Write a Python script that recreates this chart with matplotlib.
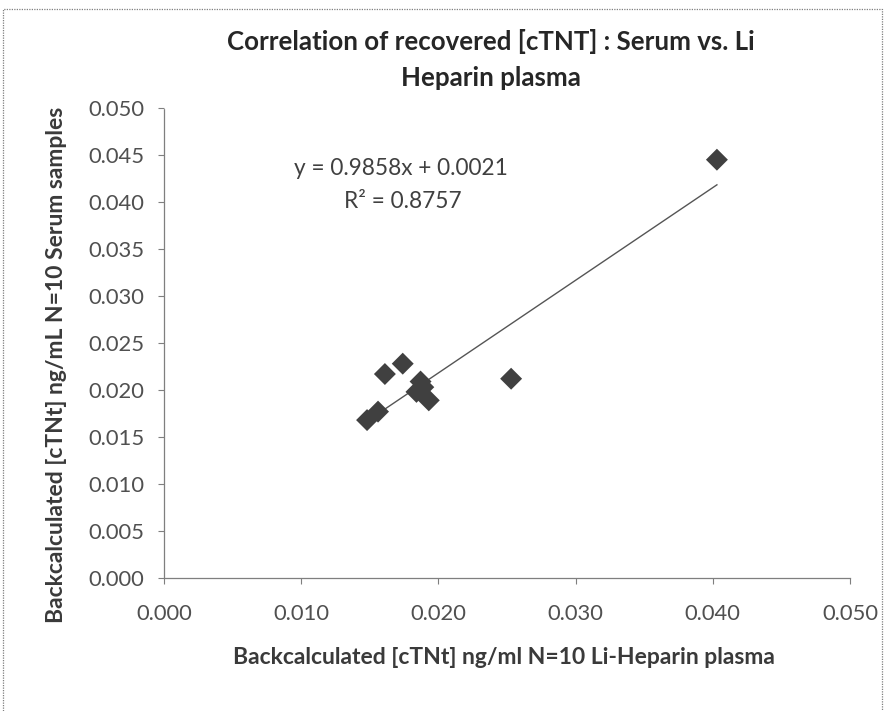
import matplotlib
matplotlib.use("Agg")
import matplotlib.pyplot as plt
from matplotlib.patches import Rectangle
import numpy as np

# Data
plasma = [0.0403, 0.0161, 0.0174, 0.0253, 0.0187, 0.0184, 0.0193, 0.0189, 0.0148, 0.0156]
serum = [0.0445, 0.0217, 0.0228, 0.0212, 0.0209, 0.0198, 0.0189, 0.0203, 0.0168, 0.0177]
slope = 0.9858
intercept = 0.0021
r2 = 0.8757
ticks = [0.000, 0.010, 0.020, 0.030, 0.040, 0.050]
yticks = [0.000, 0.005, 0.010, 0.015, 0.020, 0.025, 0.030, 0.035, 0.040, 0.045, 0.050]

title = "Correlation of recovered [cTNT] : Serum vs. Li\nHeparin plasma"
xlabel = "Backcalculated [cTNt] ng/ml N=10 Li-Heparin plasma"
ylabel = "Backcalculated [cTNt] ng/mL N=10 Serum samples"

plt.rcParams['font.family'] = ['Lato', 'DejaVu Sans']

W, H = 885, 711
fig = plt.figure(figsize=(W / 100, H / 100), dpi=100)
renderer = fig.canvas.get_renderer()


def fit(text, target_px, weight='normal'):
    t = fig.text(0, 0, text, fontsize=10, fontweight=weight)
    w = t.get_window_extent(renderer).width
    t.remove()
    return 10 * target_px / w


fs_tick = fit("0.010", 56)
fs_lab = fit(xlabel, 545, 'bold')
fs_title = fit("Correlation of recovered [cTNT] : Serum vs. Li", 530, 'bold')
fs_eq = fit("R² = 0.8757", 117)

ax = fig.add_axes([164 / W, 1 - 578 / H, (850 - 164) / W, (578 - 108) / H])

# outer chart border (dotted)
fig.patches.append(Rectangle((3 / W, -0.05), 879 / W, 1.05 - 9 / H, transform=fig.transFigure,
                             fill=False, edgecolor='#7f7f7f', linestyle=(0, (1, 1)), linewidth=0.9))

ax.scatter(plasma, serum, marker='D', s=125, color='#404040', edgecolors='none', zorder=3)

xs = np.array([min(plasma), max(plasma)])
ax.plot(xs, slope * xs + intercept, color='#555555', linewidth=1.0, zorder=2)

ax.set_xlim(0, 0.05)
ax.set_ylim(0, 0.05)
ax.set_xticks(ticks)
ax.set_yticks(yticks)
ax.set_xticklabels([f"{t:.3f}" for t in ticks])
ax.set_yticklabels([f"{t:.3f}" for t in yticks])

for side in ['top', 'right']:
    ax.spines[side].set_visible(False)
for side in ['left', 'bottom']:
    ax.spines[side].set_color('#7f7f7f')
    ax.spines[side].set_linestyle((0, (1, 1)))
    ax.spines[side].set_linewidth(0.9)

ax.tick_params(axis='both', direction='out', length=4, color='#7f7f7f', width=0.8,
               labelsize=fs_tick, labelcolor='#505050')
ax.tick_params(axis='x', pad=15)
ax.tick_params(axis='y', pad=10)

fig.text(504 / W, 1 - 657 / H, xlabel, ha='center', va='center', fontsize=fs_lab,
         fontweight='bold', color='#3a3a3a')
fig.text(57 / W, 1 - 365 / H, ylabel, ha='center', va='center', rotation=90, fontsize=fs_lab,
         fontweight='bold', color='#3a3a3a')

fig.text(491 / W, 1 - 60 / H, title, ha='center', va='center', fontsize=fs_title, fontweight='bold',
         color='#262626', linespacing=1.6)

ax.text(0.0173, 0.0436, f"y = {slope}x + {intercept}", ha='center', va='center', fontsize=fs_eq, color='#404040')
ax.text(0.01737, 0.0400, f"R² = {r2}", ha='center', va='center', fontsize=fs_eq, color='#404040')

fig.savefig("out.png", dpi=100)
